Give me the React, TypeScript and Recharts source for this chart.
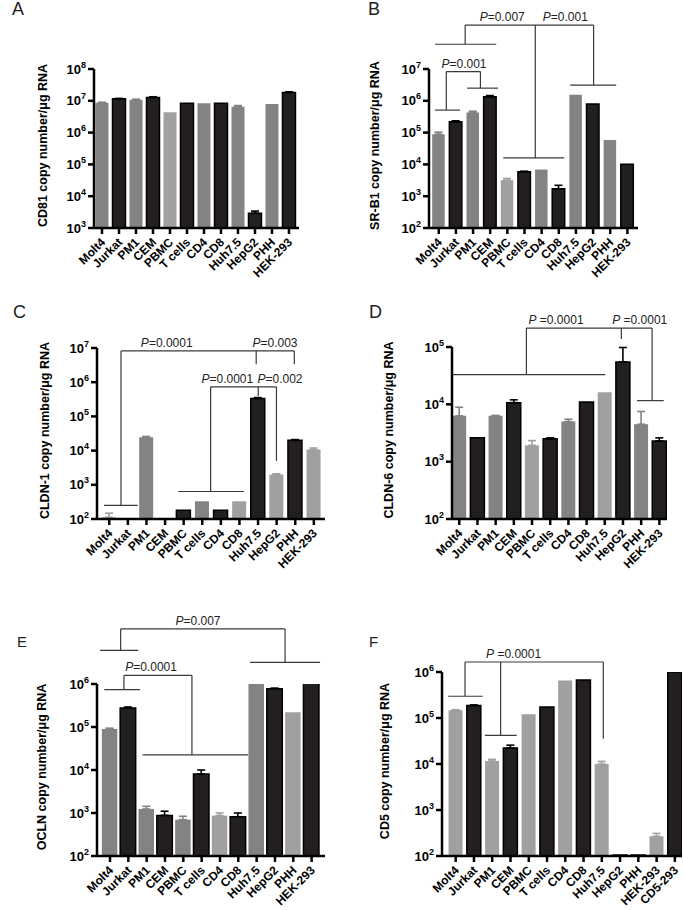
import React from "react";
import {
  Bar,
  BarChart,
  ErrorBar,
  ReferenceDot,
  ReferenceLine,
  XAxis,
  YAxis,
} from "recharts";

const FONT = "'Liberation Sans', Arial, Helvetica, sans-serif";

// cell lines on the x axis
const cells = ["Molt4", "Jurkat", "PM1", "CEM", "PBMC", "T cells", "CD4", "CD8", "Huh7.5", "HepG2", "PHH", "HEK-293"];
const cellsCd5 = [...cells, "CD5-293"];

// bar tone: g = mid gray, l = light gray, k = black
// A: CD81
const cd81Values = [8.7e6, 1.15e7, 1.07e7, 1.27e7, 4.4e6, 8.3e6, 8.3e6, 8.3e6, 6.5e6, 2.9e3, 7.9e6, 1.83e7];
const cd81Errors = [3e5, 4e5, 6e5, 7e5, 0, 0, 0, 0, 6e5, 5e2, 0, 8e5];
const cd81Tones = "gkgklkgkgkgk";

// B: SR-B1
const srb1Values = [8.9e4, 2.2e5, 4.3e5, 1.34e6, 3.2e3, 5.9e3, 6.9e3, 1.7e3, 1.55e6, 7.9e5, 5.9e4, 1.02e4];
const srb1Errors = [1.4e4, 1.5e4, 4e4, 1.2e5, 4e2, 2e2, 0, 5e2, 0, 0, 0, 0];
const srb1Tones = "gkgklkgkgkgk";
const srb1Brackets = [
  [1.54, 2.4e8, 9.03, 2.4e8],
  [1.54, 2.4e8, 1.54, 6.0e7],
  [-0.22, 6.0e7, 3.35, 6.0e7],
  [5.63, 2.4e8, 5.63, 1.6e4],
  [3.76, 1.6e4, 7.32, 1.6e4],
  [9.03, 2.4e8, 9.03, 3.1e6],
  [7.67, 3.1e6, 10.35, 3.1e6],
  [0.44, 8.3e6, 2.43, 8.3e6],
  [0.44, 8.3e6, 0.44, 5.1e5],
  [-0.22, 5.1e5, 1.24, 5.1e5],
  [2.43, 8.3e6, 2.43, 2.5e6],
  [1.65, 2.5e6, 3.46, 2.5e6],
];
const srb1Pvalues: [number, number, string][] = [
  [3.7, 2.4e8, "P=0.007"],
  [7.38, 2.4e8, "P=0.001"],
  [1.47, 8.3e6, "P=0.001"],
];

// C: CLDN-1
const cldn1Values = [112, null, 2.44e4, null, 179, 330, 179, 330, 3.35e5, 2.0e3, 2.0e4, 1.07e4];
const cldn1Errors = [36, 0, 1.5e3, 0, 0, 0, 0, 0, 2e4, 1e2, 1e3, 1.2e3];
const cldn1Tones = "lggkkgklklkl";
const cldn1Brackets = [
  [-0.28, 249, 1.53, 249],
  [0.63, 249, 0.63, 8.2e6],
  [0.63, 8.2e6, 9.95, 8.2e6],
  [7.9, 8.2e6, 7.9, 3.35e6],
  [9.95, 8.2e6, 9.95, 3.35e6],
  [5.45, 7.3e5, 8.99, 7.3e5],
  [5.45, 7.3e5, 5.45, 637],
  [3.71, 637, 7.24, 637],
  [8.01, 7.3e5, 8.01, 3.9e5],
  [8.99, 7.3e5, 8.99, 5.0e3],
];
const cldn1Pvalues: [number, number, string][] = [
  [3.09, 8.2e6, "P=0.0001"],
  [8.91, 8.2e6, "P=0.003"],
  [6.35, 7.3e5, "P=0.0001"],
  [9.18, 7.3e5, "P=0.002"],
];

// D: CLDN-6
const cldn6Values = [6.3e3, 2.6e3, 6.3e3, 1.07e4, 1.93e3, 2.5e3, 5.0e3, 1.1e4, 1.62e4, 5.5e4, 4.5e3, 2.3e3];
const cldn6Errors = [2.6e3, 0, 1e2, 1.3e3, 4e2, 1e2, 5e2, 0, 0, 4.3e4, 3e3, 3e2];
const cldn6Tones = "gkgklkgklkgk";
const cldn6Brackets = [
  [-0.4, 3.29e4, 8.03, 3.29e4],
  [3.69, 3.29e4, 3.69, 2.14e5],
  [3.69, 2.14e5, 10.6, 2.14e5],
  [8.91, 2.14e5, 8.91, 1.38e5],
  [10.6, 2.14e5, 10.6, 1.16e4],
  [9.77, 1.16e4, 11.24, 1.16e4],
];
const cldn6Pvalues: [number, number, string][] = [
  [5.32, 2.14e5, "P =0.0001"],
  [9.92, 2.14e5, "P =0.0001"],
];

// E: OCLN
const oclnValues = [9.0e4, 2.77e5, 1.24e3, 8.8e2, 7.0e2, 8.1e3, 8.7e2, 8.2e2, 1.07e6, 7.8e5, 2.2e5, 1.05e6];
const oclnErrors = [4e3, 1.5e4, 1.9e2, 2.2e2, 1.4e2, 1.9e3, 1.3e2, 1.8e2, 0, 2e4, 0, 0];
const oclnTones = "gkgkgklkgklk";
const oclnBrackets = [
  [0.58, 1.91e7, 9.55, 1.91e7],
  [0.58, 1.91e7, 0.58, 6.07e6],
  [-0.55, 6.07e6, 1.54, 6.07e6],
  [9.55, 1.91e7, 9.55, 3.19e6],
  [7.64, 3.19e6, 11.46, 3.19e6],
  [0.76, 1.59e6, 4.47, 1.59e6],
  [0.76, 1.59e6, 0.76, 7.4e5],
  [-0.31, 7.4e5, 1.64, 7.4e5],
  [4.47, 1.59e6, 4.47, 2.25e4],
  [1.78, 2.25e4, 7.54, 2.25e4],
];
const oclnPvalues: [number, number, string][] = [
  [4.8, 1.91e7, "P=0.007"],
  [2.24, 1.59e6, "P=0.0001"],
];

// F: CD5
const cd5Values = [1.47e5, 1.88e5, 1.16e4, 2.23e4, 1.2e5, 1.74e5, 6.5e5, 6.7e5, 1.0e4, 105, 105, 2.68e2, 1.0e6];
const cd5Errors = [4e3, 4e3, 1e3, 3.4e3, 0, 0, 0, 0, 1.4e3, 0, 0, 42, 0];
const cd5Tones = "lklklklklkklk";
const cd5Brackets = [
  [0.51, 1.65e6, 8.08, 1.65e6],
  [0.51, 1.65e6, 0.51, 2.97e5],
  [-0.41, 2.97e5, 1.48, 2.97e5],
  [2.46, 1.65e6, 2.46, 4.2e4],
  [1.6, 4.2e4, 3.34, 4.2e4],
  [8.08, 1.65e6, 8.08, 3.56e4],
];
const cd5Pvalues: [number, number, string][] = [[3.17, 1.65e6, "P =0.0001"]];

const TONE_STYLE: Record<string, { fill: string; stroke: string; err: string }> = {
  g: { fill: "#838383", stroke: "none", err: "#838383" },
  l: { fill: "#a0a0a2", stroke: "none", err: "#a0a0a2" },
  k: { fill: "#231f20", stroke: "#000", err: "#000" },
};

const panels = [
  {
    letter: "A", lx: 12, ly: 0, lsize: 18,
    left: 0, top: 0, width: 342, height: 290,
    margin: { top: 69, right: 43, bottom: 0, left: 0 }, yWidth: 94, xHeight: 62,
    xDomain: [-0.47, 11.59], yTicks: [1e3, 1e4, 1e5, 1e6, 1e7, 1e8], barSize: 13,
    title: "CD81 copy number/μg RNA", titleX: 43,
    cats: cells, values: cd81Values, errors: cd81Errors, tones: cd81Tones, brackets: [], pvalues: [],
  },
  {
    letter: "B", lx: 368, ly: 0, lsize: 18,
    left: 342, top: 0, width: 342, height: 290,
    margin: { top: 69, right: 46, bottom: 0, left: 0 }, yWidth: 87, xHeight: 62,
    xDomain: [-0.57, 11.62], yTicks: [1e2, 1e3, 1e4, 1e5, 1e6, 1e7], barSize: 12.5,
    title: "SR-B1 copy number/μg RNA", titleX: 33,
    cats: cells, values: srb1Values, errors: srb1Errors, tones: srb1Tones, brackets: srb1Brackets, pvalues: srb1Pvalues,
  },
  {
    letter: "C", lx: 13, ly: 303, lsize: 18,
    left: 0, top: 290, width: 342, height: 310,
    margin: { top: 58, right: 17, bottom: 0, left: 0 }, yWidth: 97, xHeight: 81,
    xDomain: [-0.66, 11.6], yTicks: [1e2, 1e3, 1e4, 1e5, 1e6, 1e7], barSize: 14,
    title: "CLDN-1 copy number/μg RNA", titleX: 45,
    cats: cells, values: cldn1Values, errors: cldn1Errors, tones: cldn1Tones, brackets: cldn1Brackets, pvalues: cldn1Pvalues,
  },
  {
    letter: "D", lx: 369, ly: 303, lsize: 18,
    left: 342, top: 290, width: 342, height: 310,
    margin: { top: 57, right: 17, bottom: 0, left: 0 }, yWidth: 110, xHeight: 81,
    xDomain: [-0.4, 11.42], yTicks: [1e2, 1e3, 1e4, 1e5], barSize: 14,
    title: "CLDN-6 copy number/μg RNA", titleX: 47,
    cats: cells, values: cldn6Values, errors: cldn6Errors, tones: cldn6Tones, brackets: cldn6Brackets, pvalues: cldn6Pvalues,
  },
  {
    letter: "E", lx: 17, ly: 634, lsize: 15,
    left: 0, top: 590, width: 342, height: 320,
    margin: { top: 94, right: 17, bottom: 0, left: 0 }, yWidth: 97, xHeight: 54,
    xDomain: [-0.71, 11.73], yTicks: [1e2, 1e3, 1e4, 1e5, 1e6], barSize: 15.5,
    title: "OCLN copy number/μg RNA", titleX: 42,
    cats: cells, values: oclnValues, errors: oclnErrors, tones: oclnTones, brackets: oclnBrackets, pvalues: oclnPvalues,
  },
  {
    letter: "F", lx: 369, ly: 634, lsize: 15,
    left: 342, top: 590, width: 342, height: 320,
    margin: { top: 82, right: 2, bottom: 0, left: 0 }, yWidth: 100, xHeight: 54,
    xDomain: [-0.75, 12.39], yTicks: [1e2, 1e3, 1e4, 1e5, 1e6], barSize: 14,
    title: "CD5 copy number/μg RNA", titleX: 43,
    cats: cellsCd5, values: cd5Values, errors: cd5Errors, tones: cd5Tones, brackets: cd5Brackets, pvalues: cd5Pvalues,
  },
];

function CatTick(props: any) {
  const { x, y, payload, names } = props;
  return (
    <text
      transform={`translate(${x + 4},${y + 7}) rotate(-45)`}
      textAnchor="end"
      fontFamily={FONT}
      fontWeight="bold"
      fontSize={12}
      fill="#000"
    >
      {names[payload.value]}
    </text>
  );
}

function PowTick(props: any) {
  const { x, y, payload } = props;
  const exp = Math.round(Math.log10(payload.value));
  return (
    <text x={x} y={y + 4.5} textAnchor="end" fontFamily={FONT} fontWeight="bold" fontSize={13} fill="#000">
      10
      <tspan dy={-6} fontSize={9}>
        {exp}
      </tspan>
    </text>
  );
}

function PText({ cx, cy, text }: { cx: number; cy: number; text: string }) {
  return (
    <text x={cx} y={cy - 4} textAnchor="middle" fontFamily={FONT} fontSize={12} fill="#222">
      <tspan fontStyle="italic">P</tspan>
      {text.slice(1)}
    </text>
  );
}

function Panel({ p }: { p: any }) {
  const data = p.cats.map((name: string, i: number) => ({
    i,
    name,
    v: p.values[i],
    err: p.errors[i],
    tone: p.tones[i],
  }));
  const ticks = data.map((d: any) => d.i);
  const yDomain = [p.yTicks[0], p.yTicks[p.yTicks.length - 1]];
  const axisStyle = { stroke: "#000", strokeWidth: 2.5 };

  return (
    <div style={{ position: "absolute", left: p.left, top: p.top }}>
      <BarChart width={p.width} height={p.height} data={data} margin={p.margin}>
        <XAxis
          xAxisId="g"
          type="number"
          dataKey="i"
          domain={p.xDomain}
          allowDataOverflow
          ticks={ticks}
          interval={0}
          height={p.xHeight}
          stroke="#000"
          strokeWidth={2.5}
          tickSize={6}
          tickLine={axisStyle}
          axisLine={axisStyle}
          tick={<CatTick names={p.cats} />}
        />
        <XAxis xAxisId="l" type="number" dataKey="i" domain={p.xDomain} allowDataOverflow hide />
        <XAxis xAxisId="k" type="number" dataKey="i" domain={p.xDomain} allowDataOverflow hide />
        <YAxis
          scale="log"
          domain={yDomain}
          allowDataOverflow
          ticks={p.yTicks}
          interval={0}
          width={p.yWidth}
          stroke="#000"
          strokeWidth={2.5}
          tickSize={6}
          tickLine={axisStyle}
          axisLine={axisStyle}
          tick={<PowTick />}
          label={{
            content: (lp: any) => {
              const vb = lp.viewBox;
              const cy = vb.y + vb.height / 2 - 3;
              return (
                <text
                  transform={`translate(${p.titleX},${cy}) rotate(-90)`}
                  textAnchor="middle"
                  dominantBaseline="central"
                  fontFamily={FONT}
                  fontWeight="bold"
                  fontSize={12.5}
                  fill="#000"
                >
                  {p.title}
                </text>
              );
            },
          }}
        />
        {["g", "l", "k"].map((t) => (
          <Bar
            key={t}
            xAxisId={t}
            dataKey={(d: any) => (d.tone === t ? d.v : null)}
            barSize={p.barSize}
            fill={TONE_STYLE[t].fill}
            stroke={TONE_STYLE[t].stroke}
            strokeWidth={1.5}
            isAnimationActive={false}
          >
            <ErrorBar
              dataKey={(d: any) => (d.tone === t && d.err ? [0, d.err] : null)}
              direction="y"
              width={4}
              stroke={TONE_STYLE[t].err}
              strokeWidth={1.6}
              isAnimationActive={false}
            />
          </Bar>
        ))}
        {p.brackets.map(([x1, y1, x2, y2]: number[], k: number) => (
          <ReferenceLine
            key={`s${k}`}
            xAxisId="g"
            segment={[
              { x: x1, y: y1 },
              { x: x2, y: y2 },
            ]}
            stroke="#3a3a3a"
            strokeWidth={1.2}
            ifOverflow="visible"
          />
        ))}
        {p.pvalues.map(([x, y, text]: [number, number, string], k: number) => (
          <ReferenceDot
            key={`p${k}`}
            xAxisId="g"
            x={x}
            y={y}
            r={1}
            ifOverflow="visible"
            shape={(s: any) => <PText cx={s.cx} cy={s.cy} text={text} />}
          />
        ))}
      </BarChart>
    </div>
  );
}

export default function App() {
  return (
    <div
      style={{
        position: "absolute",
        left: 0,
        top: 0,
        width: 684,
        height: 910,
        background: "#fff",
        overflow: "hidden",
      }}
    >
      {panels.map((p) => (
        <Panel key={p.letter} p={p} />
      ))}
      {panels.map((p) => (
        <div
          key={`L${p.letter}`}
          style={{
            position: "absolute",
            left: p.lx,
            top: p.ly,
            fontFamily: FONT,
            fontSize: p.lsize,
            lineHeight: `${p.lsize}px`,
            color: "#222",
          }}
        >
          {p.letter}
        </div>
      ))}
    </div>
  );
}
